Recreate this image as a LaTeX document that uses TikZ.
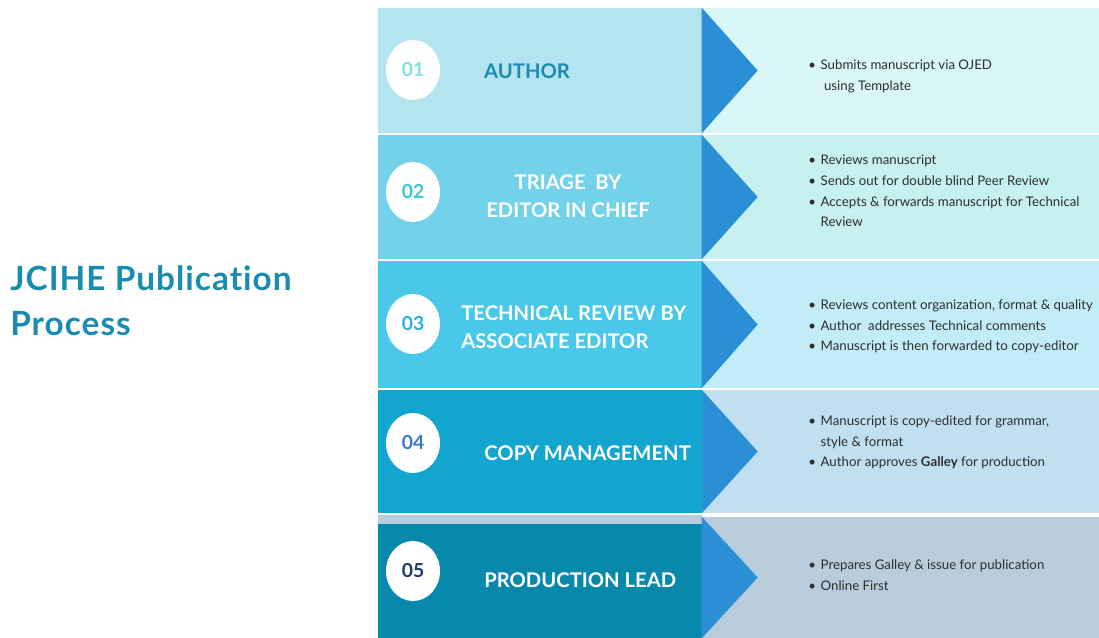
\documentclass[tikz,border=0pt]{standalone}
\usepackage{fontspec}
\setmainfont{Lato}
\newfontfamily\headfont{Lato}[LetterSpace=3, Ligatures=NoCommon]
\usetikzlibrary{shapes.geometric, positioning}
\definecolor{titleColor}{HTML}{1A8CB0}
\definecolor{leftA}{HTML}{B3E4EF}
\definecolor{leftB}{HTML}{74D1EA}
\definecolor{leftC}{HTML}{49C8EA}
\definecolor{leftD}{HTML}{12A5CD}
\definecolor{leftE}{HTML}{0889AC}
\definecolor{rightA}{HTML}{D9F7F7}
\definecolor{rightB}{HTML}{C6F1F0}
\definecolor{rightC}{HTML}{C2EDF8}
\definecolor{rightD}{HTML}{C0DFF0}
\definecolor{rightE}{HTML}{B8CCDB}
\definecolor{arrowBlue}{HTML}{2B8FD6}
\definecolor{numA}{HTML}{7FE0E0}
\definecolor{numB}{HTML}{3CC8D0}
\definecolor{numC}{HTML}{29B0E0}
\definecolor{numD}{HTML}{3A7CC8}
\definecolor{numE}{HTML}{1A3A70}
\definecolor{noteGrey}{HTML}{2E2E2E}
\newcommand{\bul}{\makebox[7pt][l]{\textbullet}}
\newcommand{\ind}{\hspace*{7pt}}

\begin{document}
\begin{tikzpicture}[
    x=0.02cm, y=-0.02cm,
    leftbox/.style={rectangle, inner sep=0pt, minimum width=6.48cm},
    rightbox/.style={rectangle, inner sep=0pt, minimum width=7.94cm},
    numcircle/.style={ellipse, fill=white, inner sep=0pt, minimum width=1.08cm, minimum height=1.2cm, font=\bfseries\fontsize{11}{13}\selectfont},
    steptitle/.style={inner sep=0pt, text=white, font=\bfseries\fontsize{11.5}{16}\selectfont},
    notes/.style={anchor=west, inner sep=0pt, align=left, text=noteGrey, font=\fontsize{7.55}{11.7}\selectfont},
    pointer/.style={fill=arrowBlue}
]
\useasboundingbox (0,0) rectangle (1099,638);

% Title
\node[anchor=west, inner sep=0pt, align=left, text=titleColor, font=\headfont\bfseries\fontsize{19}{25.6}\selectfont] (title) at (10,301) {JCIHE Publication\\Process};

% Row 1
\node[leftbox, fill=leftA, minimum height=2.5cm] (a1) at (540,70.5) {};
\node[rightbox, fill=rightA, minimum height=2.5cm] (b1) at (900.5,70.5) {};

% Row 2
\node[leftbox, fill=leftB, minimum height=2.48cm] (a2) at (540,197) {};
\node[rightbox, fill=rightB, minimum height=2.48cm] (b2) at (900.5,197) {};

% Row 3
\node[leftbox, fill=leftC, minimum height=2.54cm] (a3) at (540,324.5) {};
\node[rightbox, fill=rightC, minimum height=2.54cm] (b3) at (900.5,324.5) {};

% Row 4
\node[leftbox, fill=leftD, minimum height=2.46cm] (a4) at (540,451.5) {};
\node[rightbox, fill=rightD, minimum height=2.46cm] (b4) at (900.5,451.5) {};

% Row 5
\node[leftbox, fill=rightE, minimum height=0.18cm] (g5) at (540,519.5) {};
\node[leftbox, fill=leftE, minimum height=2.28cm] (a5) at (540,581) {};
\node[rightbox, fill=rightE, minimum height=2.42cm] (b5) at (900.5,577.5) {};

% Pointers
\foreach \r in {b1,b2,b3,b4,b5}
  \fill[pointer] (\r.north west) -- ([xshift=1.12cm]\r.west) -- (\r.south west) -- cycle;

% Numbers
\node[numcircle, text=numA] (n1) at (413,70) {01};
\node[numcircle, text=numB] (n2) at (413,192) {02};
\node[numcircle, text=numC] (n3) at (413,324) {03};
\node[numcircle, text=numD] (n4) at (413,443) {04};
\node[numcircle, text=numE] (n5) at (413,571) {05};

% Step titles
\node[steptitle, text=titleColor] (s1) at (527,71) {AUTHOR};
\node[steptitle, align=center] (s2) at (568,196) {TRIAGE~~BY\\EDITOR IN CHIEF};
\node[steptitle, align=left, anchor=west] (s3) at (461,327) {TECHNICAL REVIEW BY\\ASSOCIATE EDITOR};
\node[steptitle, anchor=west] (s4) at (484,453) {COPY MANAGEMENT};
\node[steptitle, anchor=west] (s5) at (484,580) {PRODUCTION LEAD};

% Notes
\node[notes] (t1) at (808,76.5) {\bul Submits manuscript via OJED\\\ind\ using Template};
\node[notes] (t2) at (808,191) {\bul Reviews manuscript\\\bul Sends out for double blind Peer Review\\\bul Accepts \& forwards manuscript for Technical\\\ind Review};
\node[notes] (t3) at (808,326.5) {\bul Reviews content organization, format \& quality\\\bul Author~~addresses Technical comments\\\bul Manuscript is then forwarded to copy-editor};
\node[notes] (t4) at (808,442.5) {\bul Manuscript is copy-edited for grammar,\\\ind style \& format\\\bul Author approves \textbf{Galley} for production};
\node[notes] (t5) at (808,575) {\bul Prepares Galley \& issue for publication\\\bul Online First};
\end{tikzpicture}
\end{document}
